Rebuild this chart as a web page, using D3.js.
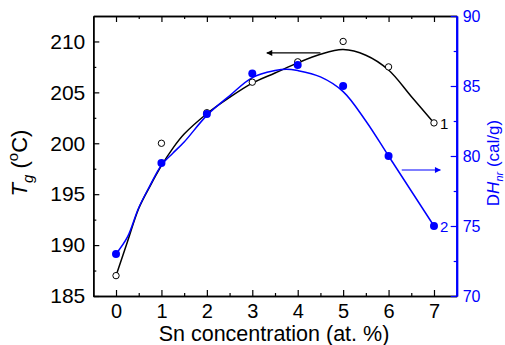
<!DOCTYPE html>
<html>
<head>
<meta charset="utf-8">
<script src="https://cdn.jsdelivr.net/npm/d3@7"></script>
<style>
  body { margin: 0; background: #fff; }
  text { font-family: "Liberation Sans", Arial, sans-serif; }
</style>
</head>
<body>
<div id="chart"></div>
<script>
// Sn concentration (at. %)
const snConc = [0, 1, 2, 3, 4, 5, 6, 7];
// curve 1: glass transition temperature, °C
const tgValues = [187, 200, 203, 206, 208, 210, 207.5, 202];
// curve 2: DH_nr, cal/g
const dhValues = [73, 79.5, 83, 85.9, 86.5, 85, 80, 75];

// fitted curves
const tgFitX = [0, 0.25, 0.5, 0.75, 1, 1.25, 1.5, 2, 2.5, 3, 3.5, 4, 4.5, 5, 5.5, 6, 6.5, 7];
const tgFitY = [187, 190.3, 193.6, 195.8, 197.8, 199.5, 200.9, 202.9, 204.5, 205.9, 206.9, 207.9, 208.75, 209.2, 208.65, 207.2, 204.6, 202];
const dhFitX = [0, 0.25, 0.5, 0.75, 1, 1.25, 1.5, 2, 2.5, 3, 3.5, 3.75, 4, 4.5, 5, 5.5, 6, 6.5, 7];
const dhFitY = [73, 74.2, 76.3, 77.9, 79.35, 80.2, 81, 82.9, 84.3, 85.6, 86.1, 86.2, 86.1, 85.65, 84.6, 82.5, 80, 77.5, 75];

const xTicks = [0, 1, 2, 3, 4, 5, 6, 7];
const xMinor = [0.5, 1.5, 2.5, 3.5, 4.5, 5.5, 6.5];
const yLeftTicks = [185, 190, 195, 200, 205, 210];
const yLeftMinor = [187.5, 192.5, 197.5, 202.5, 207.5];
const yRightTicks = [70, 75, 80, 85, 90];
const yRightMinor = [72.5, 77.5, 82.5, 87.5];

// arrows pointing to each curve's axis: [x0, x1, y]
const arrowTg = [4.5, 3.32, 208.87];
const arrowDh = [6.29, 7.14, 79.0];

const width = 505, height = 345;
const margin = {top: 16, right: 48.3, bottom: 50, left: 93.3};
const blue = "#0000ff";

const svg = d3.select("#chart").append("svg")
  .attr("width", width)
  .attr("height", height);

const defs = svg.append("defs");
[["headBlack", "#000"], ["headBlue", blue]].forEach(([id, c]) => {
  defs.append("marker")
    .attr("id", id)
    .attr("viewBox", "0 0 10 10")
    .attr("refX", 9).attr("refY", 5)
    .attr("markerWidth", 9).attr("markerHeight", 6)
    .attr("markerUnits", "userSpaceOnUse")
    .attr("orient", "auto")
    .append("path")
    .attr("d", "M0,0L10,5L0,10Z")
    .attr("fill", c);
});

const x = d3.scaleLinear().domain([-0.5, 7.5]).range([margin.left, width - margin.right]);
const yL = d3.scaleLinear().domain([185, 212.5]).range([height - margin.bottom + 1, margin.top]);
const yR = d3.scaleLinear().domain([70, 90]).range([height - margin.bottom + 1, margin.top]);

const bottomY = yL(185), topY = yL(212.5);

function styleAxis(g, color, w) {
  g.select(".domain").attr("stroke", color).attr("stroke-width", w);
  g.selectAll(".tick line").attr("stroke", color).attr("stroke-width", 1.2);
  g.selectAll(".tick text").attr("fill", color);
}

// bottom
svg.append("g")
  .attr("transform", `translate(0,${bottomY})`)
  .call(d3.axisBottom(x).tickValues(xMinor).tickSizeInner(-3).tickSizeOuter(0).tickFormat(""))
  .call(g => styleAxis(g, "#000", 1.5));
svg.append("g")
  .attr("transform", `translate(0,${bottomY})`)
  .call(d3.axisBottom(x).tickValues(xTicks).tickSizeInner(-6).tickSizeOuter(0).tickPadding(8))
  .call(g => styleAxis(g, "#000", 1.5))
  .call(g => g.selectAll(".tick text").attr("font-size", 20));

// top
svg.append("g")
  .attr("transform", `translate(0,${topY})`)
  .call(d3.axisTop(x).tickValues(xMinor).tickSizeInner(-3).tickSizeOuter(0).tickFormat(""))
  .call(g => styleAxis(g, "#000", 1.5));
svg.append("g")
  .attr("transform", `translate(0,${topY})`)
  .call(d3.axisTop(x).tickValues(xTicks).tickSizeInner(-6).tickSizeOuter(0).tickFormat(""))
  .call(g => styleAxis(g, "#000", 1.5));

// left
svg.append("g")
  .attr("transform", `translate(${margin.left},0)`)
  .call(d3.axisLeft(yL).tickValues(yLeftMinor).tickSizeInner(-3).tickSizeOuter(0).tickFormat(""))
  .call(g => styleAxis(g, "#000", 1.5));
svg.append("g")
  .attr("transform", `translate(${margin.left},0)`)
  .call(d3.axisLeft(yL).tickValues(yLeftTicks).tickSizeInner(-6).tickSizeOuter(0).tickPadding(8))
  .call(g => styleAxis(g, "#000", 1.5))
  .call(g => g.selectAll(".tick text").attr("font-size", 21));

// right
const rightX = width - margin.right;
svg.append("g")
  .attr("transform", `translate(${rightX},0)`)
  .call(d3.axisRight(yR).tickValues(yRightMinor).tickSizeInner(-3).tickSizeOuter(0).tickFormat(""))
  .call(g => styleAxis(g, blue, 2));
svg.append("g")
  .attr("transform", `translate(${rightX},0)`)
  .call(d3.axisRight(yR).tickValues(yRightTicks).tickSizeInner(-6).tickSizeOuter(0).tickPadding(6))
  .call(g => styleAxis(g, blue, 2))
  .call(g => g.selectAll(".tick text").attr("font-size", 16));

// fitted curves
const tgLine = d3.line().x(d => x(d[0])).y(d => yL(d[1])).curve(d3.curveCatmullRom);
const dhLine = d3.line().x(d => x(d[0])).y(d => yR(d[1])).curve(d3.curveCatmullRom);

svg.append("path")
  .datum(d3.zip(tgFitX, tgFitY))
  .attr("fill", "none").attr("stroke", "#000").attr("stroke-width", 1.5)
  .attr("d", tgLine);
svg.append("path")
  .datum(d3.zip(dhFitX, dhFitY))
  .attr("fill", "none").attr("stroke", blue).attr("stroke-width", 1.5)
  .attr("d", dhLine);

// points
svg.append("g").selectAll("circle")
  .data(d3.zip(snConc, tgValues))
  .join("circle")
  .attr("cx", d => x(d[0])).attr("cy", d => yL(d[1]))
  .attr("r", 3.2)
  .attr("fill", "#fff").attr("stroke", "#000").attr("stroke-width", 1);
svg.append("g").selectAll("circle")
  .data(d3.zip(snConc, dhValues))
  .join("circle")
  .attr("cx", d => x(d[0])).attr("cy", d => yR(d[1]))
  .attr("r", 4)
  .attr("fill", blue);

// arrows
svg.append("line")
  .attr("x1", x(arrowTg[0])).attr("x2", x(arrowTg[1]))
  .attr("y1", yL(arrowTg[2])).attr("y2", yL(arrowTg[2]))
  .attr("stroke", "#000").attr("stroke-width", 1.2)
  .attr("marker-end", "url(#headBlack)");
svg.append("line")
  .attr("x1", x(arrowDh[0])).attr("x2", x(arrowDh[1]))
  .attr("y1", yR(arrowDh[2])).attr("y2", yR(arrowDh[2]))
  .attr("stroke", blue).attr("stroke-width", 1.2)
  .attr("marker-end", "url(#headBlue)");

// curve numbers
svg.append("text")
  .attr("x", x(7) + 6).attr("y", yL(202) + 6)
  .attr("font-size", 15).attr("fill", "#000")
  .text("1");
svg.append("text")
  .attr("x", x(7) + 6).attr("y", yR(75) + 6)
  .attr("font-size", 15).attr("fill", blue)
  .text("2");

// x title
svg.append("text")
  .attr("x", (x(-0.5) + x(7.5)) / 2 - 1).attr("y", 341)
  .attr("text-anchor", "middle")
  .attr("font-size", 21.5)
  .text("Sn concentration (at. %)");

// left title
const lt = svg.append("text")
  .attr("transform", "translate(27,163) rotate(-90)")
  .attr("text-anchor", "middle")
  .attr("font-size", 22);
lt.append("tspan").attr("font-style", "italic").text("T");
lt.append("tspan").attr("font-style", "italic").attr("font-size", 15).attr("dy", 6).text("g");
lt.append("tspan").attr("dy", -6).text(" (");
lt.append("tspan").attr("font-size", 15).attr("dy", -9).text("o");
lt.append("tspan").attr("dy", 9).text("C)");

// right title
const rt = svg.append("text")
  .attr("transform", "translate(499,163) rotate(-90)")
  .attr("text-anchor", "middle")
  .attr("font-size", 17)
  .attr("fill", blue);
rt.append("tspan").text("D");
rt.append("tspan").attr("font-style", "italic").text("H");
rt.append("tspan").attr("font-style", "italic").attr("font-size", 11).attr("dy", 4).text("nr");
rt.append("tspan").attr("dy", -4).text(" (cal/g)");
</script>
</body>
</html>
